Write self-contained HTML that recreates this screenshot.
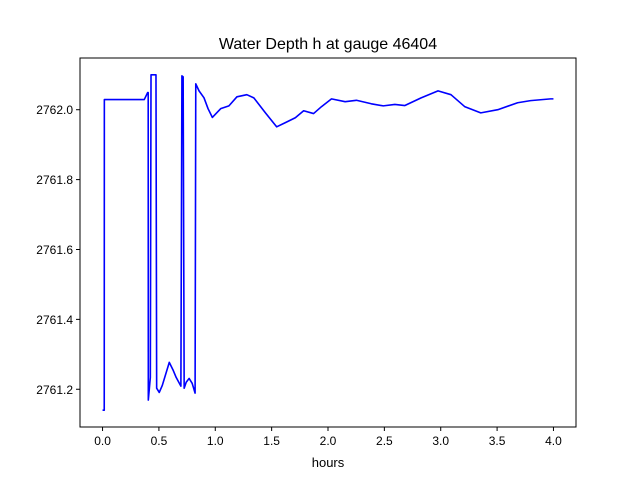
<!DOCTYPE html>
<html><head><meta charset="utf-8"><style>body{margin:0;background:#fff}svg{display:block;font-family:"Liberation Sans","DejaVu Sans",sans-serif}</style></head>
<body>
<svg id="chart" width="640" height="480" viewBox="0 0 640 480">
<rect width="640" height="480" fill="#fff"/>
<text x="328" y="49" font-size="16" text-anchor="middle">Water Depth h at gauge 46404</text>
<text x="328" y="467" font-size="13" text-anchor="middle">hours</text>
<g id="plot"></g>
</svg>
<script>
const hours=[0,0.015,0.016,0.37,0.40,0.405,0.406,0.424,0.43,0.474,0.48,0.503,0.53,0.592,0.627,0.653,0.695,0.704,0.715,0.724,0.742,0.768,0.795,0.821,0.827,0.856,0.90,0.936,0.974,1.048,1.121,1.192,1.28,1.342,1.445,1.545,1.622,1.71,1.784,1.872,1.943,2.031,2.152,2.252,2.384,2.49,2.593,2.682,2.826,2.976,3.091,3.212,3.355,3.506,3.682,3.797,3.974,4.0];
const depth=[2761.14,2761.14,2762.029,2762.029,2762.049,2762.049,2761.169,2761.234,2762.10,2762.10,2761.203,2761.191,2761.211,2761.277,2761.254,2761.234,2761.209,2762.097,2762.094,2761.203,2761.22,2761.231,2761.217,2761.189,2762.074,2762.054,2762.034,2762.003,2761.978,2762.003,2762.011,2762.037,2762.043,2762.034,2761.991,2761.951,2761.963,2761.977,2761.997,2761.989,2762.009,2762.031,2762.023,2762.027,2762.017,2762.011,2762.015,2762.012,2762.034,2762.054,2762.043,2762.009,2761.991,2762.0,2762.02,2762.026,2762.031,2762.031];
const xTicks=[0,0.5,1,1.5,2,2.5,3,3.5,4];
const yTicks=[2761.2,2761.4,2761.6,2761.8,2762.0];
const L=80,R=576,T=58,B=427,x0=-0.2,x1=4.2,y0=2761.092,y1=2762.148;
const sx=v=>L+(v-x0)/(x1-x0)*(R-L);
const sy=v=>B-(v-y0)/(y1-y0)*(B-T);
const NS="http://www.w3.org/2000/svg",g=document.getElementById('plot');
function mk(t,a){const e=document.createElementNS(NS,t);for(const k in a)e.setAttribute(k,a[k]);g.appendChild(e);return e;}
const line=mk('polyline',{points:hours.map((h,i)=>sx(h).toFixed(2)+','+sy(depth[i]).toFixed(2)).join(' '),fill:'none',stroke:'#0000ff','stroke-width':1.6,'stroke-linejoin':'round'});


const fr=mk('rect',{x:L,y:T,width:R-L,height:B-T,fill:'none',stroke:'#000','stroke-width':1});


xTicks.forEach(v=>{const x=sx(v);
const t=mk('line',{x1:x,x2:x,y1:B,y2:B+4,stroke:'#000'});


const l=mk('text',{x:x,y:B+18,'font-size':12,'text-anchor':'middle'});l.textContent=v.toFixed(1);

});
yTicks.forEach(v=>{const y=sy(v);
const t=mk('line',{x1:L-4,x2:L,y1:y,y2:y,stroke:'#000'});


const l=mk('text',{x:L-7,y:y+4.5,'font-size':12,'text-anchor':'end'});l.textContent=v.toFixed(1);

});
</script>
</body></html>
